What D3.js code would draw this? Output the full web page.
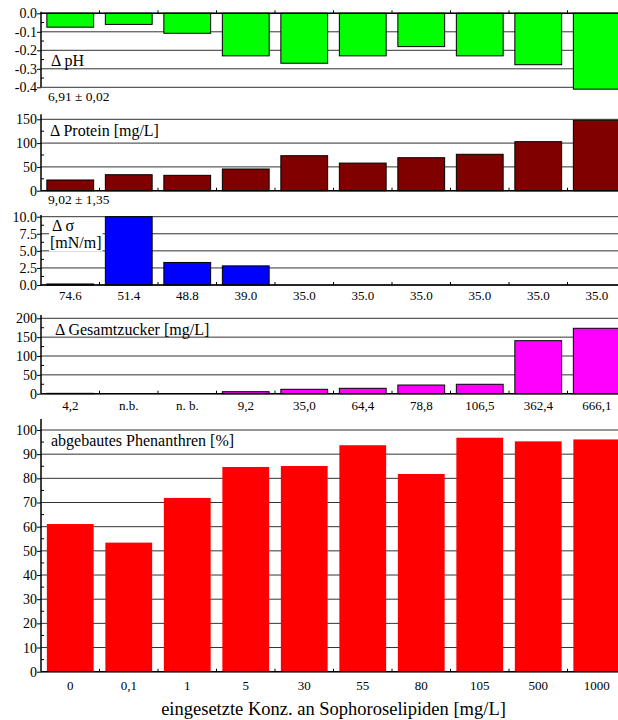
<!DOCTYPE html>
<html>
<head>
<meta charset="utf-8">
<script src="https://cdn.jsdelivr.net/npm/d3@7"></script>
<style>
body { margin: 0; background: #fff; }
svg { display: block; }
svg text { font-family: "Liberation Serif", "DejaVu Serif", serif; }
</style>
</head>
<body>
<script>
// categories = eingesetzte Konzentration [mg/L]
var categories = ["0", "0,1", "1", "5", "30", "55", "80", "105", "500", "1000"]

var phValues = [-0.075, -0.06, -0.108, -0.23, -0.27, -0.23, -0.18, -0.23, -0.278, -0.41]
var phTicks = [0, -0.1, -0.2, -0.3, -0.4]

var proteinValues = [22.5, 33.6, 32.3, 45.6, 73.5, 58, 69.3, 76.5, 103, 148]
var proteinTicks = [0, 50, 100, 150]

var sigmaValues = [0.15, 10, 3.3, 2.8, null, null, null, null, null, null]
var sigmaTicks = [0, 2.5, 5, 7.5, 10]
var sigmaLabels = ["74.6", "51.4", "48.8", "39.0", "35.0", "35.0", "35.0", "35.0", "35.0", "35.0"]

var sugarValues = [1, null, null, 5.3, 11.7, 14.3, 23, 25, 140.6, 173.5]
var sugarTicks = [0, 50, 100, 150, 200]
var sugarLabels = ["4,2", "n.b.", "n. b.", "9,2", "35,0", "64,4", "78,8", "106,5", "362,4", "666,1"]

var phenValues = [61.1, 53.4, 71.9, 84.7, 85.1, 93.7, 81.8, 96.8, 95.3, 96.1]
var phenTicks = [0, 10, 20, 30, 40, 50, 60, 70, 80, 90, 100]

var width = 618,
    height = 720,
    left = 41,
    serif = "Liberation Serif, DejaVu Serif, serif"

var svg = d3.select("body")
    .append("svg")
    .attr("width", width)
    .attr("height", height)
    .attr("font-family", serif)

var x = d3.scaleBand()
    .domain(categories)
    .range([left, 626])
    .paddingInner(0.2)
    .paddingOuter(0.1)

var gap = (x.step() - x.bandwidth()) / 2

function panel(o) {
    var y = d3.scaleLinear().domain(o.domain).range(o.range)
    var g = svg.append("g")
    var base = y(0)

    // gridlines
    g.selectAll("line.grid")
        .data(o.ticks)
        .enter()
        .append("line")
        .attr("class", "grid")
        .attr("x1", left).attr("x2", width)
        .attr("y1", y).attr("y2", y)
        .attr("stroke", "#333")
        .attr("stroke-width", 1)

    // bars
    var rows = categories.map(function (c, i) { return {c: c, v: o.values[i]} })
        .filter(function (d) { return d.v != null })
    g.selectAll("rect.bar")
        .data(rows)
        .enter()
        .append("rect")
        .attr("class", "bar")
        .attr("x", function (d) { return x(d.c) })
        .attr("width", x.bandwidth())
        .attr("y", function (d) { return Math.min(y(d.v), base) })
        .attr("height", function (d) { return Math.abs(y(d.v) - base) })
        .attr("fill", o.color)
        .attr("stroke", o.stroke || "none")
        .attr("stroke-width", 1)

    // category axis line at zero with boundary ticks
    g.append("line")
        .attr("x1", left).attr("x2", width)
        .attr("y1", base).attr("y2", base)
        .attr("stroke", "#000").attr("stroke-width", 1.5)
    g.selectAll("line.xtick")
        .data(categories.slice(1))
        .enter()
        .append("line")
        .attr("class", "xtick")
        .attr("x1", function (d) { return x(d) - gap })
        .attr("x2", function (d) { return x(d) - gap })
        .attr("y1", base).attr("y2", base - 3)
        .attr("stroke", "#000")

    // y axis
    var axis = d3.axisLeft(y)
        .tickValues(o.ticks)
        .tickFormat(o.format)
        .tickSize(4)
        .tickSizeOuter(0)
    var ga = g.append("g")
        .attr("transform", "translate(" + left + ",0)")
        .call(axis)
        .attr("font-family", serif)
        .attr("font-size", 14)
    ga.select(".domain").remove()
    ga.selectAll("text").attr("x", -4).attr("fill", "#000")

    // minor ticks pointing inward
    var minor = d3.pairs(o.ticks.slice().sort(d3.ascending)).map(function (p) { return (p[0] + p[1]) / 2 })
    g.selectAll("line.minor")
        .data(minor)
        .enter()
        .append("line")
        .attr("x1", left).attr("x2", left + 3)
        .attr("y1", y).attr("y2", y)
        .attr("stroke", "#000")

    g.append("line")
        .attr("x1", left).attr("x2", left)
        .attr("y1", d3.min(o.range) - o.over)
        .attr("y2", d3.max(o.range))
        .attr("stroke", "#000").attr("stroke-width", 1.5)

    // title inside the panel
    o.title.forEach(function (t) {
        var tx = g.append("text")
            .attr("x", t[1]).attr("y", t[2])
            .attr("font-size", 16)
            .text(t[0])
        if (t[3]) {
            var b = tx.node().getBBox()
            g.insert("rect", function () { return tx.node() })
                .attr("x", b.x - 1).attr("y", b.y - 1)
                .attr("width", b.width + 2).attr("height", b.height + 2)
                .attr("fill", "#fff")
        }
    })

    if (o.note) {
        g.append("text")
            .attr("x", 48).attr("y", o.note[1])
            .attr("font-size", 13.5)
            .text(o.note[0])
    }

    if (o.labels) {
        g.selectAll("text.cat")
            .data(categories)
            .enter()
            .append("text")
            .attr("class", "cat")
            .attr("x", function (d) { return x(d) + x.bandwidth() / 2 })
            .attr("y", o.labelY)
            .attr("text-anchor", "middle")
            .attr("font-size", 13)
            .text(function (d, i) { return o.labels[i] })
    }
}

var fix1 = function (d) { return d.toFixed(1) }

panel({
    values: phValues, domain: [-0.4, 0], range: [87.3, 13.3], over: 1.6,
    ticks: phTicks, format: fix1, color: "#00ff00", stroke: "#000",
    title: [["\u0394 pH", 51, 66]],
    note: ["6,91 \u00b1 0,02", 101]
})

panel({
    values: proteinValues, domain: [0, 150], range: [190.7, 119.3], over: 5,
    ticks: proteinTicks, format: d3.format("d"), color: "#800000", stroke: "#000",
    title: [["\u0394 Protein [mg/L]", 50, 136]],
    note: ["9,02 \u00b1 1,35", 204]
})

panel({
    values: sigmaValues, domain: [0, 10], range: [285, 216.7], over: 1.7,
    ticks: sigmaTicks, format: fix1, color: "#0000ff", stroke: "#000",
    title: [["\u0394 \u03c3", 52, 230.5], ["[mN/m]", 50, 247.5, true]],
    labels: sigmaLabels, labelY: 300
})

panel({
    values: sugarValues, domain: [0, 200], range: [393.7, 318.3], over: 3.3,
    ticks: sugarTicks, format: d3.format("d"), color: "#ff00ff", stroke: "#000",
    title: [["\u0394 Gesamtzucker [mg/L]", 55, 335]],
    labels: sugarLabels, labelY: 410
})

panel({
    values: phenValues, domain: [0, 100], range: [671.7, 430], over: 11,
    ticks: phenTicks, format: d3.format("d"), color: "#ff0000",
    title: [["abgebautes Phenanthren [%]", 51, 446]],
    labels: categories, labelY: 690
})

svg.append("text")
    .attr("x", (x.range()[0] + x.range()[1]) / 2)
    .attr("y", 715)
    .attr("text-anchor", "middle")
    .attr("font-size", 18.5)
    .text("eingesetzte Konz. an Sophoroselipiden [mg/L]")
</script>
</body>
</html>
